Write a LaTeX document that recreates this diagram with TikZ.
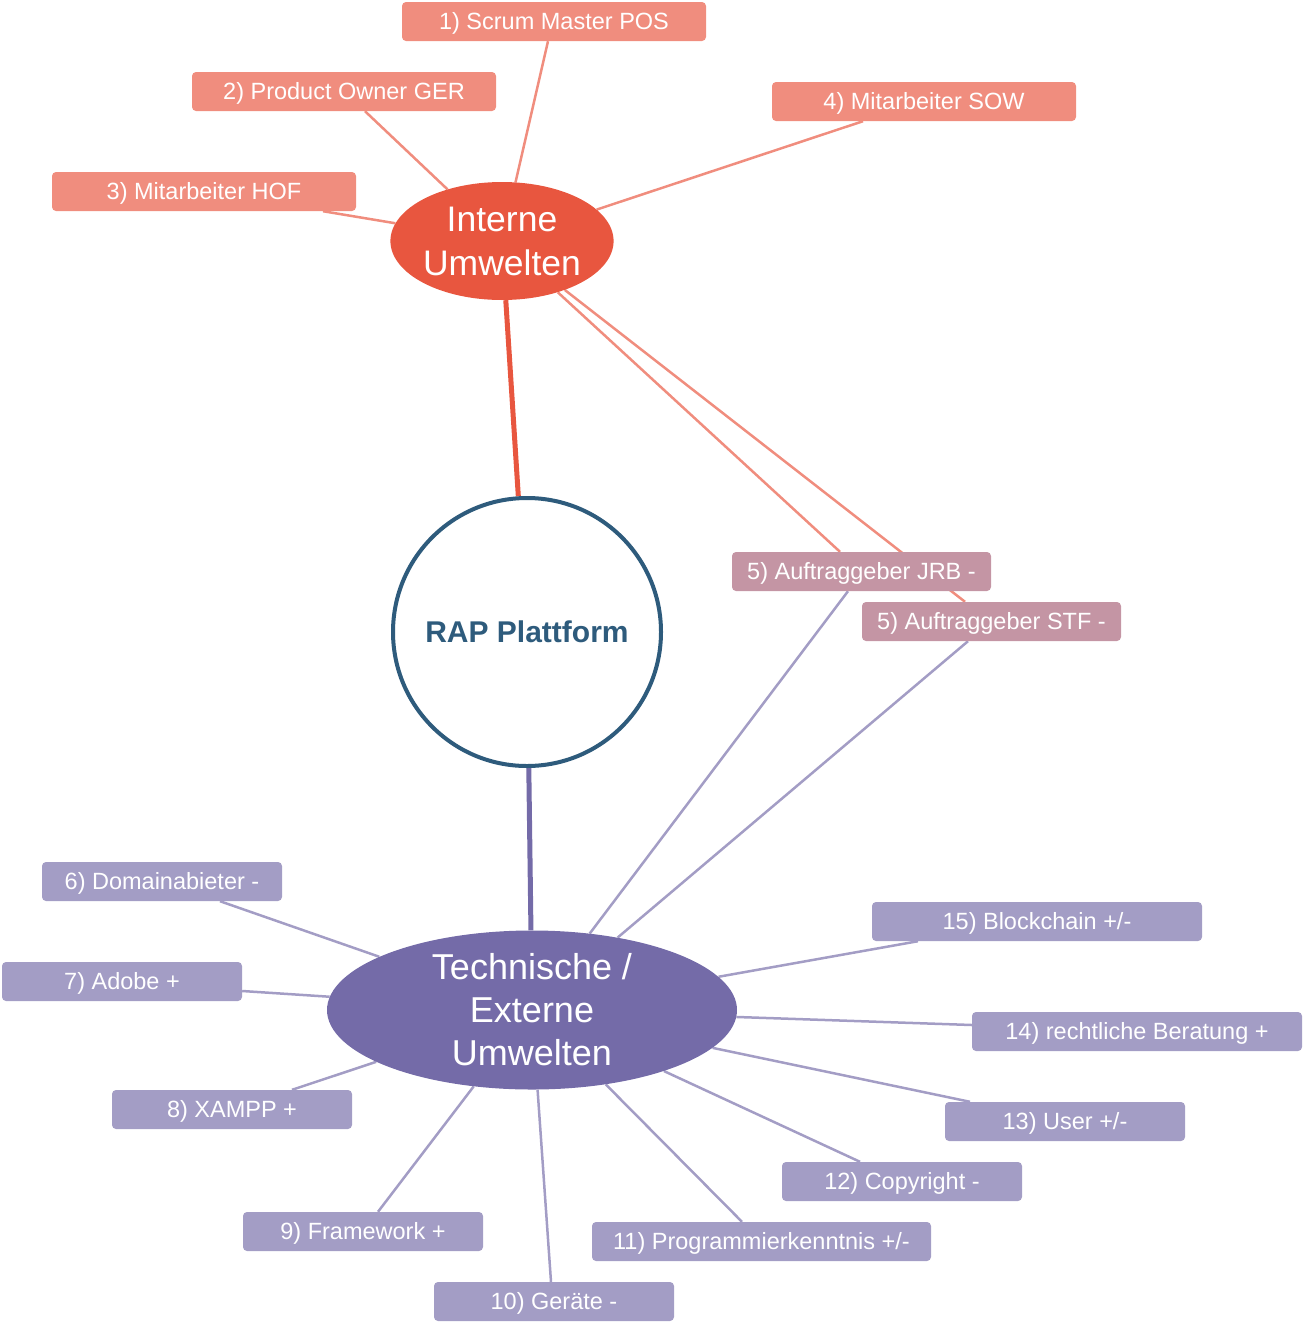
\documentclass[tikz,border=0pt]{standalone}
\usepackage{fontspec}
\setmainfont{Liberation Sans}
\usetikzlibrary{shapes.geometric}
\pgfdeclarelayer{background}
\pgfsetlayers{background,main}
\definecolor{salmon}{HTML}{F08D7E}
\definecolor{redc}{HTML}{E8563F}
\definecolor{rose}{HTML}{C495A4}
\definecolor{lilac}{HTML}{A39DC5}
\definecolor{violet}{HTML}{746BA8}
\definecolor{navy}{HTML}{2E5B7C}
\tikzset{
  boxbase/.style={rounded corners=4pt, inner sep=0pt, text=white, minimum height=39pt, text height=20pt, text depth=3.5pt, font=\fontsize{23.5}{26}\selectfont},
  redbox/.style={boxbase, fill=salmon, minimum width=304pt},
  rosebox/.style={boxbase, fill=rose, minimum width=259pt},
  lilacbox/.style={boxbase, fill=lilac, minimum width=240pt},
  redlink/.style={draw=salmon, line width=2.5pt},
  lilaclink/.style={draw=lilac, line width=2.5pt},
}
\begin{document}
\begin{tikzpicture}[x=1pt,y=-1pt]
\useasboundingbox (0,0) rectangle (1305,1323);
% main nodes
\node[ellipse, fill=redc, minimum width=218pt, minimum height=118pt, inner sep=0pt, text=white, align=center, font=\fontsize{35.5}{44}\selectfont] (ie) at (502,241) {Interne\\Umwelten};
\node[circle, draw=navy, line width=4pt, fill=white, minimum size=268pt, inner sep=0pt, text=navy, font=\fontsize{30}{34}\selectfont\bfseries] (rap) at (527,632) {RAP Plattform};
\node[ellipse, fill=violet, minimum width=410pt, minimum height=156pt, inner sep=0pt, text=white, align=center, font=\fontsize{36}{43}\selectfont] (te) at (532,1010) {Technische /\\Externe\\Umwelten};
% boxes
\node[redbox] (b1) at (554,21.5) {1) Scrum Master POS};
\node[redbox] (b2) at (344,91.5) {2) Product Owner GER};
\node[redbox] (b3) at (204,191.5) {3) Mitarbeiter HOF};
\node[redbox] (b4) at (924,101.5) {4) Mitarbeiter SOW};
\node[rosebox] (b5a) at (861.5,571.5) {5) Auftraggeber JRB -};
\node[rosebox] (b5b) at (991.5,621.5) {5) Auftraggeber STF -};
\node[lilacbox] (b6) at (162,881.5) {6) Domainabieter -};
\node[lilacbox] (b7) at (122,981.5) {7) Adobe +};
\node[lilacbox] (b8) at (232,1109.5) {8) XAMPP +};
\node[lilacbox] (b9) at (363,1231.5) {9) Framework +};
\node[lilacbox] (b10) at (554,1301.5) {10) Geräte -};
\node[lilacbox, minimum width=339pt] (b11) at (761.5,1241.5) {11) Programmierkenntnis +/-};
\node[lilacbox] (b12) at (902,1181.5) {12) Copyright -};
\node[lilacbox] (b13) at (1065,1121.5) {13) User +/-};
\node[lilacbox, minimum width=330pt] (b14) at (1137,1031.5) {14) rechtliche Beratung +};
\node[lilacbox, minimum width=330pt] (b15) at (1037,921.5) {15) Blockchain +/-};
% connectors behind
\begin{pgfonlayer}{background}
\draw[draw=redc, line width=5pt] (ie) -- (rap);
\draw[draw=violet, line width=5pt] (rap) -- (te);
\draw[redlink] (ie) -- ([xshift=-6pt]b1.south);
\draw[redlink] (ie) -- ([xshift=21pt]b2.south);
\draw[redlink] (ie) -- ([xshift=119pt]b3.south);
\draw[redlink] (ie) -- ([xshift=-61pt]b4.south);
\draw[redlink] (ie) -- ([xshift=-21.5pt]b5a.north);
\draw[redlink] (ie) -- ([xshift=-26.5pt]b5b.north);
\draw[lilaclink] (te) -- ([xshift=-13.5pt]b5a.south);
\draw[lilaclink] (te) -- ([xshift=-23.5pt]b5b.south);
\draw[lilaclink] (te) -- ([xshift=58pt]b6.south);
\draw[lilaclink] (te) -- ([yshift=-9.5pt]b7.east);
\draw[lilaclink] (te) -- ([xshift=60pt]b8.north);
\draw[lilaclink] (te) -- ([xshift=15pt]b9.north);
\draw[lilaclink] (te) -- ([xshift=-3pt]b10.north);
\draw[lilaclink] (te) -- ([xshift=-19.5pt]b11.north);
\draw[lilaclink] (te) -- ([xshift=-42pt]b12.north);
\draw[lilaclink] (te) -- ([xshift=-95pt]b13.north);
\draw[lilaclink] (te) -- ([yshift=6.5pt]b14.west);
\draw[lilaclink] (te) -- ([xshift=-119pt]b15.south);
\end{pgfonlayer}
\end{tikzpicture}
\end{document}
